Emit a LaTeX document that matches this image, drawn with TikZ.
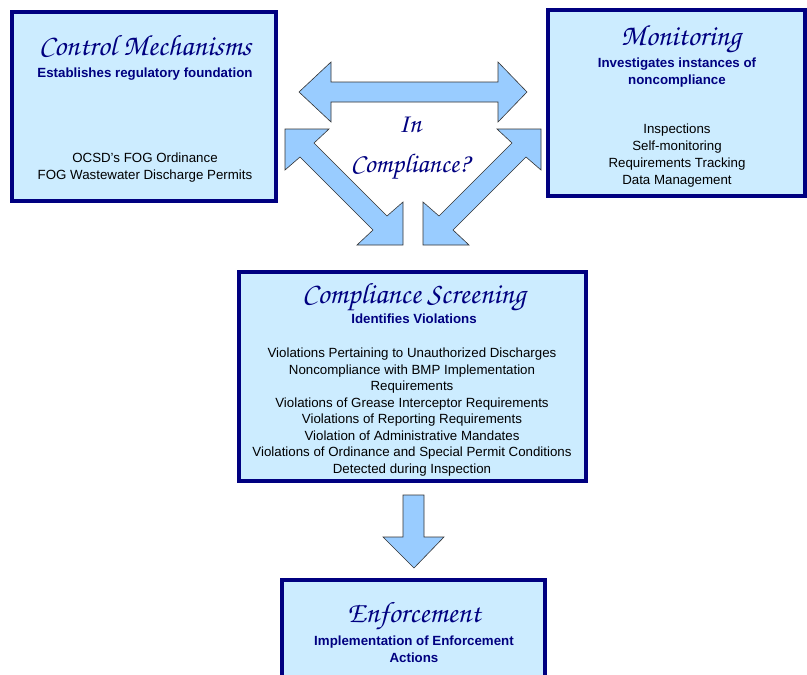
\documentclass[tikz,border=0pt]{standalone}
\usepackage[T1]{fontenc}
\usepackage{fontspec}
\setmainfont{Liberation Sans}
\definecolor{navy}{HTML}{000080}
\definecolor{boxfill}{HTML}{CCECFF}
\definecolor{arrfill}{HTML}{99CCFF}
\definecolor{arrline}{HTML}{333333}
\newcommand{\scriptfnt}{\fontencoding{T1}\fontfamily{pzc}\fontseries{mb}\fontshape{it}\selectfont}
\tikzset{
  panel/.style={draw=navy, line width=3.5pt, fill=boxfill},
  blockarrow/.style={draw=arrline, line width=0.6pt, fill=arrfill, line join=miter},
  ttl/.style={anchor=base, inner sep=0pt, text=navy, font=\scriptfnt\fontsize{29.5}{31}\selectfont},
  qst/.style={anchor=base, inner sep=0pt, text=navy, font=\scriptfnt\fontsize{27}{29}\selectfont},
  sub/.style={anchor=north, inner sep=0pt, align=center, text=navy, font=\bfseries\fontsize{13.3}{16.5}\selectfont},
  items/.style={anchor=north, inner sep=0pt, align=center, text=black, font=\fontsize{13.3}{16.5}\selectfont},
}
\begin{document}
\begin{tikzpicture}[x=1pt,y=-1pt]
\clip (0,0) rectangle (807,675);
\fill[white] (0,0) rectangle (807,675);
% boxes
\draw[panel] (12,12) rectangle (276,201);
\draw[panel] (548,10) rectangle (805,196);
\draw[panel] (239,272) rectangle (586,481);
\draw[panel] (282,580) rectangle (545,690);
% block arrows
\draw[blockarrow] (299,92) -- (331,62) -- (331,82) -- (498,82) -- (498,62) -- (527,92) -- (498,122) -- (498,102) -- (331,102) -- (331,122) -- cycle;
\draw[blockarrow] (285,129) -- (329,129) -- (314,143) -- (387,216) -- (403,202) -- (403,245) -- (357,245) -- (373,230) -- (300,157) -- (285,170) -- cycle;
\draw[blockarrow] (541,129) -- (497,129) -- (512,143) -- (439,216) -- (423,202) -- (423,245) -- (469,245) -- (453,230) -- (526,157) -- (541,170) -- cycle;
\draw[blockarrow] (403,495) -- (424,495) -- (424,537) -- (444,537) -- (414,568) -- (383,537) -- (403,537) -- cycle;
% Control Mechanisms
\node[ttl] (cmT) at (145,55) {Control Mechanisms};
\node[sub] (cmS) at (145,68) {Establishes regulatory foundation};
\node[items] (cmI) at (145,153) {OCSD’s FOG Ordinance\\FOG Wastewater Discharge Permits};
% Monitoring
\node[ttl] (moT) at (681,45) {Monitoring};
\node[sub] (moS) at (677,58) {Investigates instances of\\noncompliance};
\node[items, font=\fontsize{13.3}{16.8}\selectfont] (moI) at (677,124) {Inspections\\Self-monitoring\\Requirements Tracking\\Data Management};
% In compliance
\node[qst] (inc1) at (410,132) {In};
\node[qst] (inc2) at (410,172) {Compliance?};
% Compliance Screening
\node[ttl] (csT) at (414,303) {Compliance Screening};
\node[sub] (csS) at (414,314) {Identifies Violations};
\node[items] (csI) at (412,348) {Violations Pertaining to Unauthorized Discharges\\Noncompliance with BMP Implementation\\Requirements\\Violations of Grease Interceptor Requirements\\Violations of Reporting Requirements\\Violation of Administrative Mandates\\Violations of Ordinance and Special Permit Conditions\\Detected during Inspection};
% Enforcement
\node[ttl] (enT) at (414,622) {Enforcement};
\node[sub] (enS) at (414,636) {Implementation of Enforcement\\Actions};
\end{tikzpicture}
\end{document}
